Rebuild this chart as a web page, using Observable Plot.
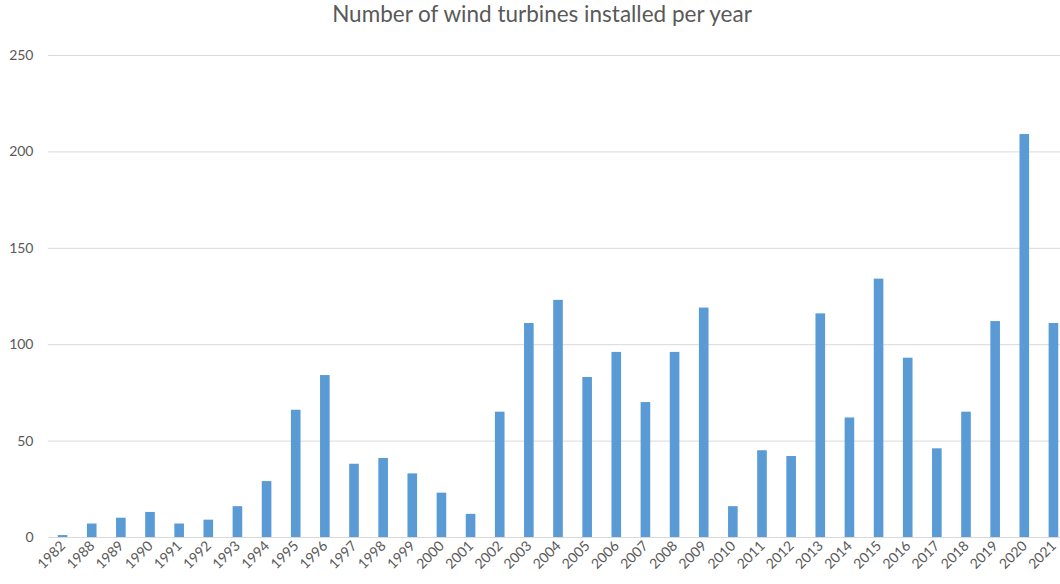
<!DOCTYPE html>
<html><head><meta charset="utf-8">
<script src="https://cdn.jsdelivr.net/npm/d3@7"></script>
<script src="https://cdn.jsdelivr.net/npm/@observablehq/plot@0.6"></script>
<style>
html,body{margin:0;padding:0;background:#fff;overflow:hidden;}
#title{height:36px;line-height:40px;font:22.5px Lato, sans-serif;color:#595959;text-align:center;width:1060px;padding-left:24px;box-sizing:border-box;}
#chart{width:1068px;}
</style></head><body>
<div id="title">Number of wind turbines installed per year</div>
<div id="chart"></div>
<script>
const years = ["1982","1988","1989","1990","1991","1992","1993","1994","1995","1996","1997","1998","1999","2000","2001","2002","2003","2004","2005","2006","2007","2008","2009","2010","2011","2012","2013","2014","2015","2016","2017","2018","2019","2020","2021"];
const turbines = [1,7,10,13,7,9,16,29,66,84,38,41,33,23,12,65,111,123,83,96,70,96,119,16,45,42,116,62,134,93,46,65,112,209,111];
const yTicks = [0,50,100,150,200,250];
const data = years.map((year,i)=>({year, count: turbines[i]}));
const chart = Plot.plot({
  width: 1068, height: 548,
  marginLeft: 48, marginRight: 0, marginTop: 19, marginBottom: 47,
  style: {fontFamily: "Lato, sans-serif", fontSize: "14px", color: "#595959", background: "#fff", overflow: "visible", maxWidth: "none"},
  x: {domain: years, paddingInner: 0.67, paddingOuter: 0.335, round: false, label: null},
  y: {domain: [0,250], label: null},
  marks: [
    Plot.gridY(yTicks, {stroke: "#d9d9d9", strokeOpacity: 1, strokeWidth: 1}),
    Plot.barY(data, {x: "year", y: "count", fill: "#5B9BD5"}),
    Plot.axisY(yTicks, {tickSize: 0, tickPadding: 15, label: null, fill: "#595959"}),
    Plot.axisX({tickSize: 0, tickPadding: 6, tickRotate: -45, label: null, fill: "#595959"})
  ]
});
document.getElementById("chart").appendChild(chart);
</script>
</body></html>
